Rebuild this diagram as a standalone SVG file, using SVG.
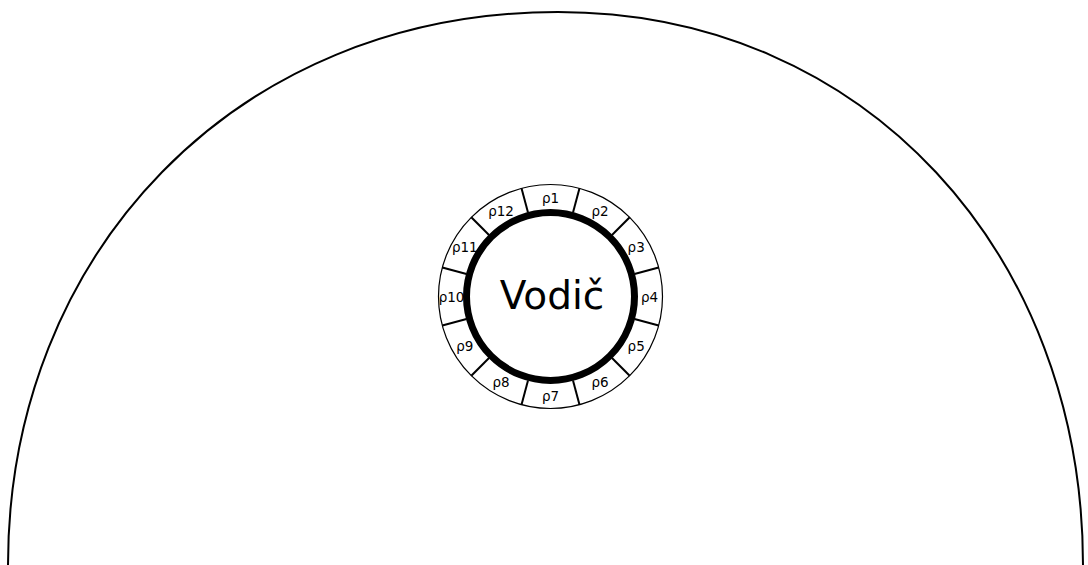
<svg xmlns="http://www.w3.org/2000/svg" width="1088" height="565" viewBox="0 0 1088 565">
<style>
.lbl{font-family:"DejaVu Sans",Verdana,sans-serif;font-size:13.5px;fill:#000;text-anchor:middle;dominant-baseline:central}
.div{stroke:#000;stroke-width:2;fill:none}
</style>
<rect width="1088" height="565" fill="#fff"/>
<g id="boundary">
<path d="M8,565 C8,255 235,12 558,12 C866,12 1083,255 1083,565" fill="none" stroke="#000" stroke-width="2"/>
</g>
<g id="conductor">
<circle cx="550.5" cy="296.5" r="112" fill="#fff" stroke="#000" stroke-width="1.2"/>
<g id="dividers">
<line class="div" x1="573.0" y1="212.5" x2="579.5" y2="188.3"/>
<line class="div" x1="612.0" y1="235.0" x2="629.7" y2="217.3"/>
<line class="div" x1="634.5" y1="274.0" x2="658.7" y2="267.5"/>
<line class="div" x1="634.5" y1="319.0" x2="658.7" y2="325.5"/>
<line class="div" x1="612.0" y1="358.0" x2="629.7" y2="375.7"/>
<line class="div" x1="573.0" y1="380.5" x2="579.5" y2="404.7"/>
<line class="div" x1="528.0" y1="380.5" x2="521.5" y2="404.7"/>
<line class="div" x1="489.0" y1="358.0" x2="471.3" y2="375.7"/>
<line class="div" x1="466.5" y1="319.0" x2="442.3" y2="325.5"/>
<line class="div" x1="466.5" y1="274.0" x2="442.3" y2="267.5"/>
<line class="div" x1="489.0" y1="235.0" x2="471.3" y2="217.3"/>
<line class="div" x1="528.0" y1="212.5" x2="521.5" y2="188.3"/>
</g>
<circle cx="550.5" cy="296.5" r="84" fill="#fff" stroke="#000" stroke-width="7"/>
<text x="552" y="309" font-family="DejaVu Sans, Verdana, sans-serif" font-size="39" text-anchor="middle">Vodič</text>
</g>
<g id="labels">
<text class="lbl" x="550.5" y="197.5">ρ1</text>
<text class="lbl" x="600" y="210.8">ρ2</text>
<text class="lbl" x="636.2" y="247">ρ3</text>
<text class="lbl" x="649.5" y="296.5">ρ4</text>
<text class="lbl" x="636.2" y="346">ρ5</text>
<text class="lbl" x="600" y="382.2">ρ6</text>
<text class="lbl" x="550.5" y="395.5">ρ7</text>
<text class="lbl" x="501" y="382.2">ρ8</text>
<text class="lbl" x="464.8" y="346">ρ9</text>
<text class="lbl" x="451.5" y="296.5">ρ10</text>
<text class="lbl" x="464.8" y="247">ρ11</text>
<text class="lbl" x="501" y="210.8">ρ12</text>
</g>
</svg>
